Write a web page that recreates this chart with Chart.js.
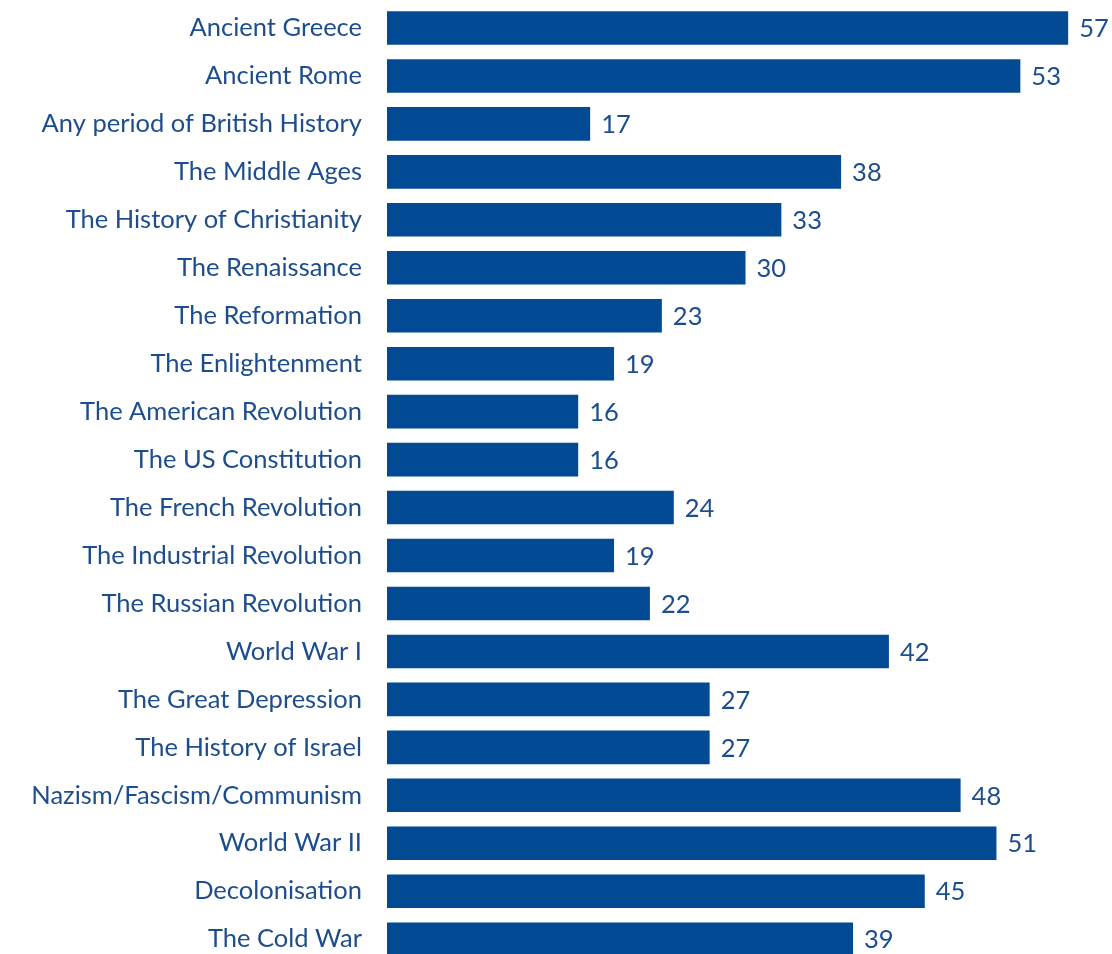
<!DOCTYPE html>
<html>
<head>
<meta charset="utf-8">
<script src="https://cdn.jsdelivr.net/npm/chart.js@4/dist/chart.umd.min.js"></script>
<style>
  html, body { margin: 0; padding: 0; background: #fff; overflow: hidden; }
  #wrap { position: relative; width: 1112px; height: 967px; }
</style>
</head>
<body>
<div id="wrap"><canvas id="chart"></canvas></div>
<script>
// Topics and percentages
const topics = [
    'Ancient Greece', 'Ancient Rome', 'Any period of British History', 'The Middle Ages',
    'The History of Christianity', 'The Renaissance', 'The Reformation', 'The Enlightenment',
    'The American Revolution', 'The US Constitution', 'The French Revolution',
    'The Industrial Revolution', 'The Russian Revolution', 'World War I',
    'The Great Depression', 'The History of Israel', 'Nazism/Fascism/Communism',
    'World War II', 'Decolonisation', 'The Cold War'
];
const shares = [57, 53, 17, 38, 33, 30, 23, 19, 16, 16, 24, 19, 22, 42, 27, 27, 48, 51, 45, 39];

const barBlue = '#024a93';
const textBlue = '#1c4d8e';
const fontFamily = "Lato, 'Noto Sans', sans-serif";
const fontSize = 25.5;

// value labels to the right of each bar
const valueLabels = {
    id: 'valueLabels',
    afterDatasetsDraw(chart) {
        const ctx = chart.ctx;
        const meta = chart.getDatasetMeta(0);
        ctx.save();
        ctx.fillStyle = textBlue;
        ctx.font = fontSize + 'px ' + fontFamily;
        ctx.textAlign = 'left';
        ctx.textBaseline = 'middle';
        meta.data.forEach((bar, i) => {
            ctx.fillText(shares[i], bar.x + 11, bar.y + 1);
        });
        ctx.restore();
    }
};

new Chart(document.getElementById('chart'), {
    type: 'bar',
    data: {
        labels: topics,
        datasets: [{
            data: shares,
            backgroundColor: barBlue,
            borderWidth: 0,
            categoryPercentage: 1,
            barPercentage: 0.7
        }]
    },
    options: {
        indexAxis: 'y',
        responsive: true,
        maintainAspectRatio: false,
        animation: false,
        layout: { padding: { top: 4, right: 8, bottom: 0, left: 0 } },
        plugins: {
            legend: { display: false },
            tooltip: { enabled: false }
        },
        scales: {
            x: {
                display: false,
                min: 0,
                max: 60
            },
            y: {
                grid: { display: false, drawTicks: true, tickLength: 25 },
                border: { display: false },
                ticks: {
                    color: textBlue,
                    padding: 0,
                    // small line height keeps the axis from padding the chart area
                    font: { family: fontFamily, size: fontSize, lineHeight: 0.3 }
                },
                afterFit(scale) { scale.width = 387; }
            }
        }
    },
    plugins: [valueLabels]
});
</script>
</body>
</html>
